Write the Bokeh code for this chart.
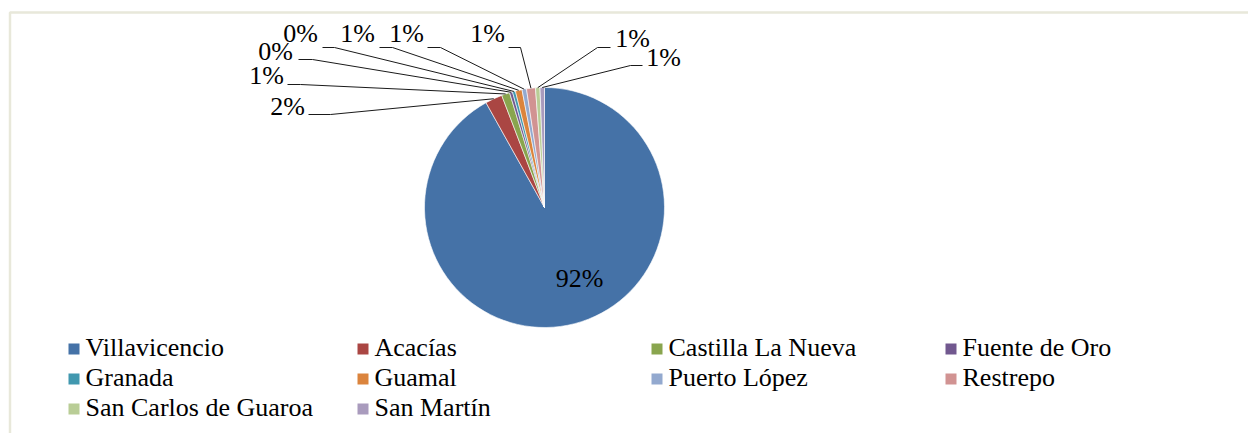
import numpy as np
from bokeh.plotting import figure
from bokeh.models import ColumnDataSource, Range1d
from bokeh.core.properties import value
from bokeh.embed import file_html
from bokeh.resources import INLINE

# ---------------- data ----------------
municipios = ["Villavicencio", "Acacías", "Castilla La Nueva", "Fuente de Oro",
              "Granada", "Guamal", "Puerto López", "Restrepo",
              "San Carlos de Guaroa", "San Martín"]
porcentajes = [91.9, 2.3, 1.1, 0.4, 0.4, 0.9, 0.6, 1.2, 0.6, 0.6]
colores = ["#4572A7", "#AA4643", "#89A54E", "#71588F", "#4198AF",
           "#DB843D", "#93A9CF", "#D19392", "#B9CD96", "#A99BBD"]

# ---------------- layout (page pixels) ----------------
W, H = 1248, 433
def Y(py):
    return H - py

CX, CY, R = 544, 207, 120
FONT = value("Liberation Serif")
TEXT_DY = 7   # text rendering correction (pixels up)

# label anchor (center x, baseline y) and leader stub (x0, x1, y) for outside labels
label_layout = [
    (579, 285, None),
    (287, 113, (308, 330, 114)),
    (266, 82, (287, 300, 84)),
    (275, 58, (298, 312, 59)),
    (300, 40, (322, 334, 47)),
    (357, 40, (379, 392, 47)),
    (406, 40, (427, 440, 47)),
    (487, 40, (508, 520, 47)),
    (632, 45, (610, 597, 47)),
    (663, 64, (642, 630, 65)),
]
legend_cols = [68, 357, 651, 945]
legend_row0, legend_pitch = 354, 30
mk = 11

p = figure(width=W, height=H, output_backend="svg", toolbar_location=None,
           x_range=Range1d(0, W), y_range=Range1d(0, H), min_border=0)
p.axis.visible = False
p.grid.visible = False
p.outline_line_color = None
p.background_fill_color = "white"
p.border_fill_color = "white"

# chart area frame (top + left edge)
p.line(x=[9.5, 9.5, W], y=[Y(H), Y(12), Y(12)], line_color="#E8E8DA", line_width=2.5)

# ---------------- pie ----------------
vals = np.array(porcentajes, dtype=float)
frac = vals / vals.sum()
cum = np.concatenate([[0.0], np.cumsum(frac)])
start = np.pi / 2 - 2 * np.pi * cum[:-1]
end = np.pi / 2 - 2 * np.pi * cum[1:]
src = ColumnDataSource(dict(name=municipios, start=start, end=end, color=colores))
p.wedge(x=CX, y=Y(CY), radius=R, start_angle="start", end_angle="end",
        direction="clock", fill_color="color", line_color="white", line_width=0.6,
        source=src)

# ---------------- labels + leader lines ----------------
mid = 2 * np.pi * (cum[:-1] + cum[1:]) / 2   # clockwise from top
lx, ly, lt = [], [], []
for i, (tx, ty, stub) in enumerate(label_layout):
    lx.append(tx); ly.append(Y(ty) + TEXT_DY)
    lt.append(f"{round(vals[i] / vals.sum() * 100)}%")
    if stub is not None:
        ex = CX + R * np.sin(mid[i])
        ey = CY - R * np.cos(mid[i])
        x0, x1, sy = stub
        p.line(x=[x0, x1, ex], y=[Y(sy), Y(sy), Y(ey)], line_color="#1a1a1a", line_width=1)
p.text(x=lx, y=ly, text=lt, text_font=FONT, text_font_size="26px",
       text_align="center", text_baseline="alphabetic", text_color="black")

# ---------------- legend ----------------
gx, gy, tx_, ty_, tt = [], [], [], [], []
for i, name in enumerate(municipios):
    r, c = divmod(i, 4)
    base = legend_row0 + r * legend_pitch
    gx.append(legend_cols[c] + mk / 2); gy.append(Y(base - mk / 2))
    tx_.append(legend_cols[c] + mk + 6); ty_.append(Y(base) + TEXT_DY); tt.append(name)
p.scatter(x=gx, y=gy, marker="square", size=mk, fill_color=colores, line_color=None)
p.text(x=tx_, y=ty_, text=tt, text_font=FONT, text_font_size="26px",
       text_align="left", text_baseline="alphabetic", text_color="black")

open("out.html", "w").write(file_html(p, INLINE))
